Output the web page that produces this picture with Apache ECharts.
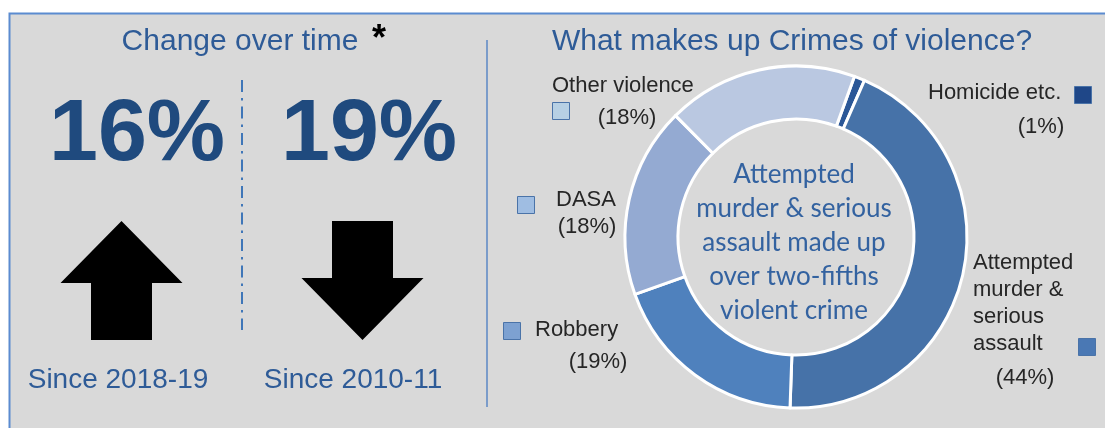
<!DOCTYPE html>
<html>
<head>
<meta charset="utf-8">
<script src="https://cdn.jsdelivr.net/npm/echarts@6/dist/echarts.min.js"></script>
<style>
  html, body { margin: 0; padding: 0; background: #ffffff; }
  #chart { width: 1105px; height: 428px; }
</style>
</head>
<body>
<div id="chart"></div>
<script>
// Change in recorded crimes of violence (percent; the sign gives the direction)
const changePeriods = ['Since 2018-19', 'Since 2010-11'];
const changeValues = [16, -19];

// Share of crimes of violence by type (percent), clockwise from the first slice
const crimeTypes = ['Homicide etc.', 'Attempted murder & serious assault', 'Robbery', 'DASA', 'Other violence'];
const crimeShares = [1, 44, 19, 18, 18];
// How each type's name is broken over lines in its label
const crimeLabelLines = [['Homicide etc.'], ['Attempted', 'murder &', 'serious', 'assault'], ['Robbery'], ['DASA'], ['Other violence']];
const centreNote = ['Attempted', 'murder & serious', 'assault made up', 'over two-fifths', 'violent crime'];

const titles = ['Change over time', 'What makes up Crimes of violence?'];

// ---- styling ----
const SLICE_COLORS = ['#2b5797', '#4672a8', '#4f81bd', '#94aad2', '#bac8e1'];
const KEY_COLORS = ['#1f4788', '#4a78b4', '#7da1d1', '#9fbde2', '#b7d0e4'];
const KEY_BORDER = '#4a73a8';
const TITLE_BLUE = '#2e5b97';
const NUMBER_BLUE = '#1f4a7e';
const LABEL_INK = '#262626';
const SANS = '"Liberation Sans", Arial, sans-serif';
const NOTE_FONT = 'Lato, "Open Sans", sans-serif';

// Donut geometry
const PIE_CENTER = [796, 237];
const PIE_RADIUS = [118, 171];

// Where each label block sits around the donut
const labelPlaces = [
  { name: [928, 93], key: [1074, 86], pct: [1041, 127] },
  { name: [973, 263], key: [1078, 338], pct: [1025, 378] },
  { name: [535, 330], key: [503, 322], pct: [598, 362] },
  { name: [556, 200], key: [517, 196], pct: [587, 227] },
  { name: [552, 86], key: [552, 102], pct: [627, 118] }
];
const KEY_SIZE = 17;
const LABEL_LINE_H = 27;

// Change-over-time column centres
const changeColumns = [
  { x: 137, caption: 118 },
  { x: 369, caption: 353 }
];

function text(str, x, y, font, fill, align, z) {
  return {
    type: 'text', silent: true, z: z || 10,
    style: { text: str, x: x, y: y, font: font, fill: fill, textAlign: align || 'center', textVerticalAlign: 'middle' }
  };
}

// Block arrow: points up for a rise, down for a fall
function arrow(cx, value) {
  const top = 221, bottom = 340, headH = 62, headHalf = 61, shaftHalf = 30.5;
  let pts;
  if (value >= 0) {
    const hb = top + headH;
    pts = [[cx, top], [cx + headHalf, hb], [cx + shaftHalf, hb], [cx + shaftHalf, bottom],
           [cx - shaftHalf, bottom], [cx - shaftHalf, hb], [cx - headHalf, hb]];
  } else {
    const hb = bottom - headH;
    pts = [[cx, bottom], [cx + headHalf, hb], [cx + shaftHalf, hb], [cx + shaftHalf, top],
           [cx - shaftHalf, top], [cx - shaftHalf, hb], [cx - headHalf, hb]];
  }
  return { type: 'polygon', silent: true, z: 5, shape: { points: pts }, style: { fill: '#000000' } };
}

const graphics = [];

// Panel background and frame
graphics.push({
  type: 'rect', silent: true, z: 0,
  shape: { x: 9.5, y: 13.5, width: 1120, height: 440 },
  style: { fill: '#d9d9d9', stroke: '#5b8bd0', lineWidth: 2 }
});
// Divider between the two halves
graphics.push({
  type: 'line', silent: true, z: 2,
  shape: { x1: 487, y1: 40, x2: 487, y2: 407 },
  style: { stroke: '#5b87c5', lineWidth: 1.5 }
});
// Dash-dot rule between the two change columns
graphics.push({
  type: 'line', silent: true, z: 2,
  shape: { x1: 242, y1: 80, x2: 242, y2: 330 },
  style: { stroke: '#3f76b8', lineWidth: 2, lineDash: [12, 6, 2.5, 6] }
});

// Titles
graphics.push(text(titles[0], 240, 42, '30px ' + SANS, TITLE_BLUE));
graphics.push(text('*', 379, 40, 'bold 36px ' + SANS, '#000000'));
graphics.push(text(titles[1], 792, 42, '30px ' + SANS, TITLE_BLUE));

// Change-over-time figures
changeValues.forEach(function (v, i) {
  const col = changeColumns[i];
  graphics.push(text(Math.abs(v) + '%', col.x, 136, 'bold 88px ' + SANS, NUMBER_BLUE));
  graphics.push(arrow(i === 0 ? 121.5 : 362.5, v));
  graphics.push(text(changePeriods[i], col.caption, 380, '28px ' + SANS, TITLE_BLUE));
});

// Note in the hole of the donut
centreNote.forEach(function (line, i) {
  graphics.push(text(line, 794, 175 + i * 34, '26px ' + NOTE_FONT, '#3362a0', 'center', 20));
});

// Labels and key squares for each crime type
crimeTypes.forEach(function (name, i) {
  const p = labelPlaces[i];
  crimeLabelLines[i].forEach(function (line, j) {
    graphics.push(text(line, p.name[0], p.name[1] + j * LABEL_LINE_H, '22px ' + SANS, LABEL_INK, 'left'));
  });
  graphics.push(text('(' + crimeShares[i] + '%)', p.pct[0], p.pct[1], '22px ' + SANS, LABEL_INK, 'center'));
  graphics.push({
    type: 'rect', silent: true, z: 10,
    shape: { x: p.key[0] + 0.5, y: p.key[1] + 0.5, width: KEY_SIZE, height: KEY_SIZE },
    style: { fill: KEY_COLORS[i], stroke: KEY_BORDER, lineWidth: 1 }
  });
});

const chart = echarts.init(document.getElementById('chart'), null, { renderer: 'canvas' });
chart.setOption({
  animation: false,
  backgroundColor: '#ffffff',
  graphic: { elements: graphics },
  series: [{
    type: 'pie',
    z: 5,
    center: PIE_CENTER,
    radius: PIE_RADIUS,
    startAngle: 70,
    clockwise: true,
    silent: true,
    label: { show: false },
    labelLine: { show: false },
    emphasis: { disabled: true },
    itemStyle: { borderColor: '#ffffff', borderWidth: 3 },
    data: crimeTypes.map(function (name, i) {
      return { name: name, value: crimeShares[i], itemStyle: { color: SLICE_COLORS[i] } };
    })
  }]
});
</script>
</body>
</html>
